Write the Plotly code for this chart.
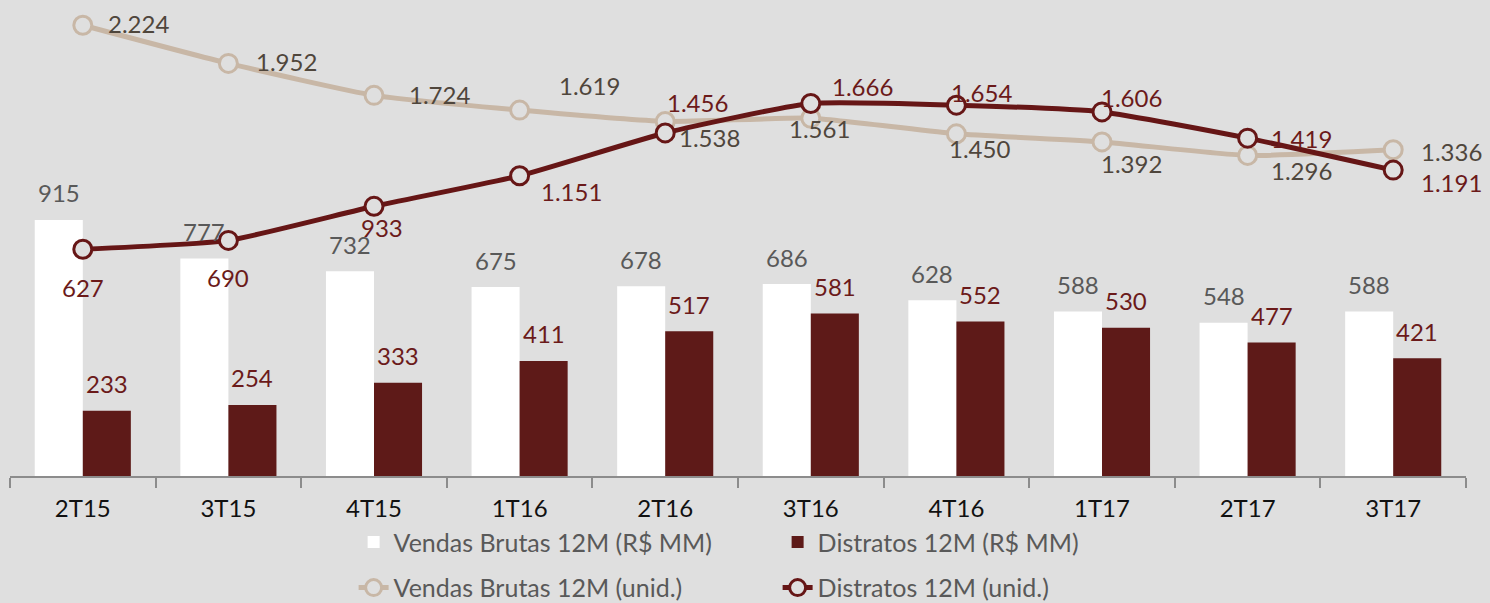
import plotly.graph_objects as go

categories = ["2T15", "3T15", "4T15", "1T16", "2T16", "3T16", "4T16", "1T17", "2T17", "3T17"]
vendas_rs = [915, 777, 732, 675, 678, 686, 628, 588, 548, 588]
distratos_rs = [233, 254, 333, 411, 517, 581, 552, 530, 477, 421]
vendas_un = [2224, 1952, 1724, 1619, 1538, 1561, 1450, 1392, 1296, 1336]
distratos_un = [627, 690, 933, 1151, 1456, 1666, 1654, 1606, 1419, 1191]

BG = "#dfdfdf"
WHITE = "#ffffff"
DARK = "#5e1a18"
LINE_DARK = "#661616"
BEIGE = "#c8b7a6"
FONT = "Lato"

def fmt(v):
    return f"{v:,}".replace(",", ".")

fig = go.Figure()
fig.add_trace(go.Bar(x=categories, y=vendas_rs, name="Vendas Brutas 12M (R$ MM)",
                     marker=dict(color=WHITE, line=dict(width=0)), legend="legend"))
fig.add_trace(go.Bar(x=categories, y=distratos_rs, name="Distratos 12M (R$ MM)",
                     marker=dict(color=DARK, line=dict(width=0)), legend="legend"))
fig.add_trace(go.Scatter(x=categories, y=vendas_un, name="Vendas Brutas 12M (unid.)", yaxis="y2",
                         mode="lines+markers", line=dict(color=BEIGE, width=5, shape="spline", smoothing=0.5),
                         marker=dict(symbol="circle", size=18, color=BG, line=dict(color=BEIGE, width=3)),
                         legend="legend2"))
fig.add_trace(go.Scatter(x=categories, y=distratos_un, name="Distratos 12M (unid.)", yaxis="y2",
                         mode="lines+markers", line=dict(color=LINE_DARK, width=5, shape="spline", smoothing=0.5),
                         marker=dict(symbol="circle", size=18, color=BG, line=dict(color=LINE_DARK, width=3)),
                         legend="legend2"))

annotations = []
# bar labels
for c, v in zip(categories, vendas_rs):
    annotations.append(dict(x=c, y=v, xref="x", yref="y", text=str(v), showarrow=False,
                            xshift=-24, yshift=27, yanchor="middle",
                            font=dict(family=FONT, size=24, color="#595959")))
for c, v in zip(categories, distratos_rs):
    annotations.append(dict(x=c, y=v, xref="x", yref="y", text=str(v), showarrow=False,
                            xshift=24, yshift=27, yanchor="middle",
                            font=dict(family=FONT, size=24, color="#6b1a1a")))
# line labels
vend_off = [(56, 2), (58, 2), (65, 1), (70, 25), (44, -16), (9, -10), (23, -15), (29, -22), (54, -15), (58, -2)]
dist_off = [(0, -38), (0, -37), (8, -21), (52, -16), (32, 30), (52, 17), (25, 13), (29, 14), (54, 0), (58, -12)]
for c, v, (dx, dy) in zip(categories, vendas_un, vend_off):
    annotations.append(dict(x=c, y=v, xref="x", yref="y2", text=fmt(v), showarrow=False,
                            xshift=dx, yshift=dy, yanchor="middle",
                            font=dict(family=FONT, size=24, color="#4f463c")))
for c, v, (dx, dy) in zip(categories, distratos_un, dist_off):
    annotations.append(dict(x=c, y=v, xref="x", yref="y2", text=fmt(v), showarrow=False,
                            xshift=dx, yshift=dy, yanchor="middle",
                            font=dict(family=FONT, size=24, color="#6b1a1a")))

fig.update_layout(
    width=1490, height=603,
    paper_bgcolor=BG, plot_bgcolor=BG,
    margin=dict(l=10, r=24, t=0, b=127, autoexpand=False),
    barmode="group", bargap=0.34, bargroupgap=0,
    annotations=annotations,
    font=dict(family=FONT, color="#595959"),
    xaxis=dict(type="category", range=[-0.5, len(categories) - 0.5], showline=True, linecolor="#8c8c8c",
               linewidth=2, automargin=False, ticklabelstandoff=10,
               ticks="outside", tickson="boundaries", ticklen=10, tickcolor="#8c8c8c", tickwidth=2,
               tickfont=dict(family=FONT, size=24, color="#111111"), showgrid=False, zeroline=False),
    yaxis=dict(range=[0, 1701], visible=False, showgrid=False, zeroline=False, automargin=False),
    yaxis2=dict(range=[-990, 2404], overlaying="y", side="right", visible=False, showgrid=False,
                zeroline=False, automargin=False),
    legend=dict(orientation="h", x=0.236, y=-0.139, xanchor="left", yanchor="middle",
                bgcolor="rgba(0,0,0,0)", entrywidth=379, entrywidthmode="pixels",
                font=dict(family=FONT, size=25, color="#595959")),
    legend2=dict(orientation="h", x=0.236, y=-0.235, xanchor="left", yanchor="middle",
                 bgcolor="rgba(0,0,0,0)", entrywidth=379, entrywidthmode="pixels",
                 font=dict(family=FONT, size=25, color="#595959")),
)

fig.write_html("out.html", config={"displayModeBar": False},
               post_script="document.body.style.margin='0';document.body.style.overflow='hidden';")
